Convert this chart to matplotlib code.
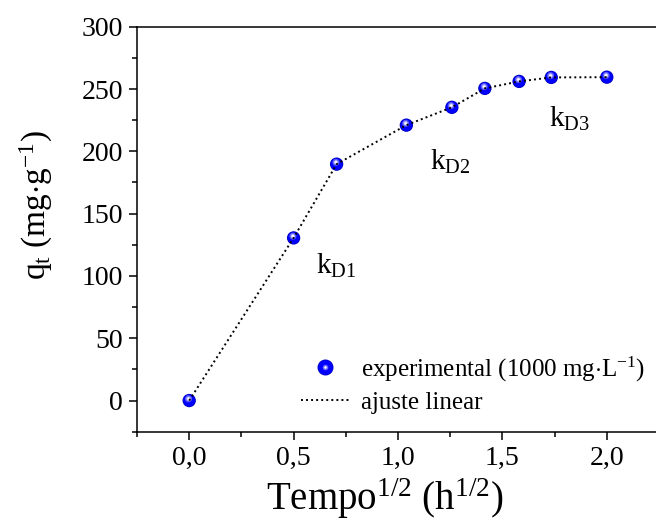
import matplotlib
matplotlib.use("Agg")
import matplotlib.pyplot as plt
import matplotlib.transforms as mtransforms
from matplotlib.lines import Line2D
from matplotlib.legend_handler import HandlerTuple
from matplotlib.ticker import FixedLocator, FixedFormatter, MultipleLocator

plt.rcParams['font.family'] = ['Liberation Serif', 'DejaVu Serif']
plt.rcParams['mathtext.fontset'] = 'custom'
plt.rcParams['mathtext.rm'] = 'Liberation Serif'
plt.rcParams['mathtext.it'] = 'Liberation Serif:italic'

# data
sqrt_t = [0.0, 0.5, 0.706, 1.040, 1.258, 1.416, 1.580, 1.734, 2.0]
qt = [0.0, 130.5, 189.7, 221.0, 235.3, 250.5, 256.1, 259.3, 259.5]

x_ticks = [0.0, 0.5, 1.0, 1.5, 2.0]
x_tick_labels = ['0,0', '0,5', '1,0', '1,5', '2,0']
y_ticks = [0, 50, 100, 150, 200, 250, 300]
y_tick_labels = ['0', '50', '100', '150', '200', '250', '300']

k_labels = [r'k$\mathregular{_{D1}}$', r'k$\mathregular{_{D2}}$', r'k$\mathregular{_{D3}}$']
k_x = [0.609, 1.155, 1.722]
k_y = [102, 185, 220]

fig = plt.figure(figsize=(6.56, 5.22), dpi=100)
ax = fig.add_axes([137/656, 1 - 431.7/522, (659-137)/656, (431.7-26.7)/522])

ax.set_xlim(-0.25, 2.25)
ax.set_ylim(-25, 300)

# sphere-like markers
ax.scatter(sqrt_t, qt, s=92, color='#0000b8', edgecolors='none', zorder=3)
ax.scatter(sqrt_t, qt, s=74, color='#0000ff', edgecolors='none', zorder=4)
hl = mtransforms.offset_copy(ax.transData, fig=fig, x=-0.5, y=1.3, units='points')
ax.scatter(sqrt_t, qt, s=26, color='#5a5aff', edgecolors='none', zorder=5, transform=hl)
ax.scatter(sqrt_t, qt, s=10, color='#b8b8ff', edgecolors='none', zorder=6, transform=hl)
ax.scatter(sqrt_t, qt, s=3, color='white', edgecolors='none', zorder=6.5, transform=hl)

# dotted fit line (drawn over markers)
ax.plot(sqrt_t, qt, linestyle=(0, (1, 1.6)), color='black', lw=1.4, zorder=7)

for lab, xx, yy in zip(k_labels, k_x, k_y):
    ax.text(xx, yy, lab, fontsize=21, ha='left', va='baseline')

ax.xaxis.set_major_locator(FixedLocator(x_ticks))
ax.xaxis.set_major_formatter(FixedFormatter(x_tick_labels))
ax.xaxis.set_minor_locator(MultipleLocator(0.25))
ax.yaxis.set_major_locator(FixedLocator(y_ticks))
ax.yaxis.set_major_formatter(FixedFormatter(y_tick_labels))
ax.yaxis.set_minor_locator(MultipleLocator(25))

ax.tick_params(which='major', direction='out', length=6, width=1.1, labelsize=20, pad=4)
ax.tick_params(which='minor', direction='out', length=3.5, width=1.1)
ax.tick_params(top=False, right=False, which='both')
for sp in ax.spines.values():
    sp.set_linewidth(1.1)

ax.set_xlabel(r'Tempo$\mathregular{^{1/2}}$ (h$\mathregular{^{1/2}}$)', fontsize=28)
ax.xaxis.label.set_verticalalignment('baseline')
ax.xaxis.set_label_coords(0.475, (431.7 - 510) / 405)
ax.set_ylabel(r'q$\mathregular{_t}$ (mg$\cdot$g$\mathregular{^{-1}}$)', fontsize=24)
ax.yaxis.set_label_coords((55 - 137) / 522, (431.7 - 205) / 405)

h_marker = (Line2D([], [], marker='o', ls='none', markersize=11.5, color='#0000b8', markeredgewidth=0),
            Line2D([], [], marker='o', ls='none', markersize=10.5, color='#0000ff', markeredgewidth=0),
            Line2D([], [], marker='o', ls='none', markersize=4, color='#6a6aff', markeredgewidth=0),
            Line2D([], [], marker='o', ls='none', markersize=1.8, color='white', markeredgewidth=0))
h_line = Line2D([], [], linestyle=(0, (1, 1.6)), color='black', lw=1.4)
leg = ax.legend([h_marker, h_line],
                [r'experimental (1000 mg$\cdot$L$\mathregular{^{-1}}$)', 'ajuste linear'],
                handler_map={tuple: HandlerTuple(ndivide=1)},
                numpoints=1,
                loc='lower left', bbox_to_anchor=(0.295, 0.02), frameon=False,
                fontsize=18, handlelength=1.95, handletextpad=0.45, labelspacing=0.3,
                borderaxespad=0)

fig.savefig('out.png', dpi=100)
